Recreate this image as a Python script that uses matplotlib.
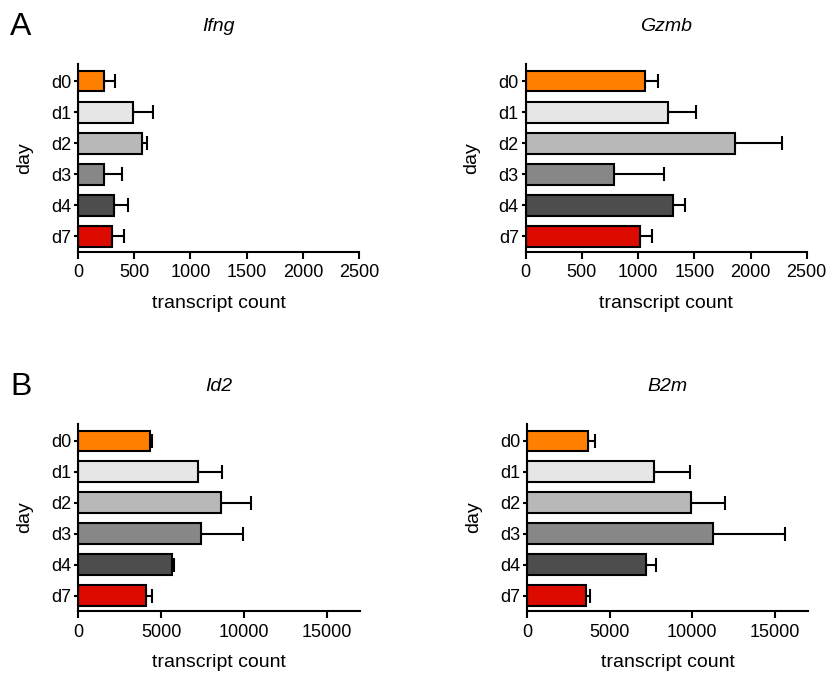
import numpy as np
import matplotlib.pyplot as plt

plt.rcParams['font.family'] = ['Liberation Sans', 'DejaVu Sans']

days = ['d0', 'd1', 'd2', 'd3', 'd4', 'd7']
colors = ['#FF8000', '#E6E6E6', '#B8B8B8', '#878787', '#4D4D4D', '#DD0A00']

# mean transcript counts and upper error (SD) per day
ifng = [234, 492, 567, 234, 317, 305]
ifng_err = [92, 178, 50, 160, 131, 104]
gzmb = [1062, 1269, 1862, 786, 1308, 1020]
gzmb_err = [118, 246, 421, 448, 110, 104]
id2 = [4317, 7209, 8594, 7390, 5683, 4096]
id2_err = [121, 1446, 1808, 2570, 120, 322]
b2m = [3700, 7682, 9926, 11260, 7217, 3558]
b2m_err = [424, 2203, 2042, 4326, 606, 222]

fig = plt.figure(figsize=(8.28, 6.73), dpi=100)


def panel(rect, vals, errs, title, xmax, xticks):
    ax = fig.add_axes(rect)
    y = np.arange(len(days))
    ax.barh(y, vals, height=0.67, color=colors, edgecolor='black', linewidth=1.5, zorder=2)
    ax.errorbar(vals, y, xerr=[np.zeros(len(vals)), errs], fmt='none', ecolor='black',
                elinewidth=1.5, capsize=5, capthick=1.5, zorder=1)
    ax.set_ylim(5.5, -0.55)
    ax.set_xlim(0, xmax)
    ax.set_yticks(y)
    ax.set_yticklabels(days)
    ax.set_xticks(xticks)
    for s in ['top', 'right']:
        ax.spines[s].set_visible(False)
    for s in ['left', 'bottom']:
        ax.spines[s].set_linewidth(1.5)
    ax.tick_params(axis='y', length=3, width=1.5, labelsize=13, pad=2)
    ax.tick_params(axis='x', length=5, width=1.5, labelsize=13, pad=4)
    ax.set_xlabel('transcript count', fontsize=14, labelpad=10)
    ax.set_ylabel('day', fontsize=14, labelpad=13)
    ax.set_title(title, fontsize=14, style='italic', pad=24)
    return ax


panel([0.0942, 0.6256, 0.3394, 0.2793], ifng, ifng_err, 'Ifng', 2500, [0, 500, 1000, 1500, 2000, 2500])
panel([0.6349, 0.6256, 0.3394, 0.2793], gzmb, gzmb_err, 'Gzmb', 2500, [0, 500, 1000, 1500, 2000, 2500])
panel([0.0946, 0.0921, 0.3402, 0.2780], id2, id2_err, 'Id2', 17000, [0, 5000, 10000, 15000])
panel([0.6365, 0.0921, 0.3394, 0.2780], b2m, b2m_err, 'B2m', 17000, [0, 5000, 10000, 15000])

fig.text(0.012, 0.948, 'A', fontsize=23, va='baseline')
fig.text(0.012, 0.413, 'B', fontsize=23, va='baseline')

fig.savefig('out.png', dpi=100)
